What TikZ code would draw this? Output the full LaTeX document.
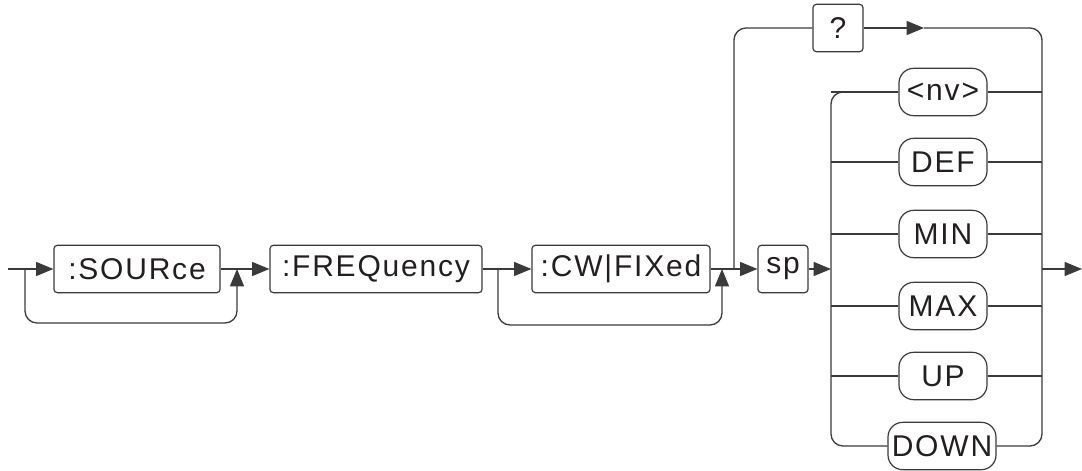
\documentclass[tikz,border=0pt]{standalone}
\usepackage{fontspec}
\setmainfont{Liberation Sans}[LetterSpace=6]
\usepackage{tikz}
\usetikzlibrary{calc,arrows.meta}

\definecolor{linegray}{HTML}{3A3A3A}
\definecolor{textblack}{HTML}{231F20}

\begin{document}
\begin{tikzpicture}[
    x=0.75pt, y=-0.75pt,
    line width=1pt, draw=linegray,
    cmd/.style={draw=linegray, line width=0.9pt, rounded corners=2.5pt, minimum height=35.5pt, inner sep=0pt,
        text=textblack, font=\fontsize{22.5}{26}\selectfont},
    opt/.style={cmd, rounded corners=11pt, minimum width=66pt},
    flow/.style={draw=linegray, -{Triangle[length=13pt,width=10.5pt]}},
    wire/.style={draw=linegray, rounded corners=9pt}
]
    \useasboundingbox (0,0) rectangle (1082,471);

    % Main keywords
    \node[cmd, minimum width=124.5pt] (source) at (137,269) {:SOURce};
    \node[cmd, minimum width=159pt] (freq) at (376,269) {:FREQuency};
    \node[cmd, minimum width=133.5pt] (cw) at (621,269) {:CW|FIXed};
    \node[cmd, minimum width=37.5pt] (query) at (838,28) {?};
    \node[cmd, minimum width=37.5pt] (sp) at (783,269) {sp};

    % Parameter choices
    \node[opt] (nv) at (943,92) {<nv>};
    \node[opt] (def) at (943,162) {DEF};
    \node[opt] (min) at (943,234) {MIN};
    \node[opt] (max) at (943,306) {MAX};
    \node[opt] (up) at (943,376) {UP};
    \node[opt, minimum width=81pt] (down) at (942,446) {DOWN};

    % Branch points
    \coordinate (start) at (8,269);
    \coordinate (skipsrc) at (25,269);
    \coordinate (joinsrc) at (237,269);
    \coordinate (skipcw) at (498,269);
    \coordinate (joincw) at (722,269);
    \coordinate (toquery) at (734,269);
    \coordinate (qarrow) at (924,28);
    \coordinate (leftbar) at (831,269);
    \coordinate (rightbar) at (1042,269);
    \coordinate (finish) at (1082,269);

    % Draw connections
    \draw[flow] (start) -- (source.west);
    \draw[wire] (skipsrc) -- ++(0,54) -| (joinsrc) [flow];
    \draw[flow] (source.east) -- (freq.west);
    \draw[flow] (freq.east) -- (cw.west);
    \draw[wire] (skipcw) -- ++(0,56) -| (joincw) [flow];
    \draw[flow] (cw.east) -- (sp.west);
    \draw[wire] (toquery) |- (query.west);
    \draw[flow] (query.east) -- (qarrow);
    \draw[wire] (qarrow) -| (rightbar |- down.east) -- (down.east);
    \draw[flow] (sp.east) -- (leftbar);
    \draw[wire] (nv.west) -| (leftbar |- down.west) -- (down.west);
    \foreach \o in {nv,def,min,max,up} {
        \draw (\o.west -| leftbar) -- (\o.west);
        \draw (\o.east) -- (\o.east -| rightbar);
    }
    \draw[flow] (rightbar) -- (finish);
\end{tikzpicture}
\end{document}
